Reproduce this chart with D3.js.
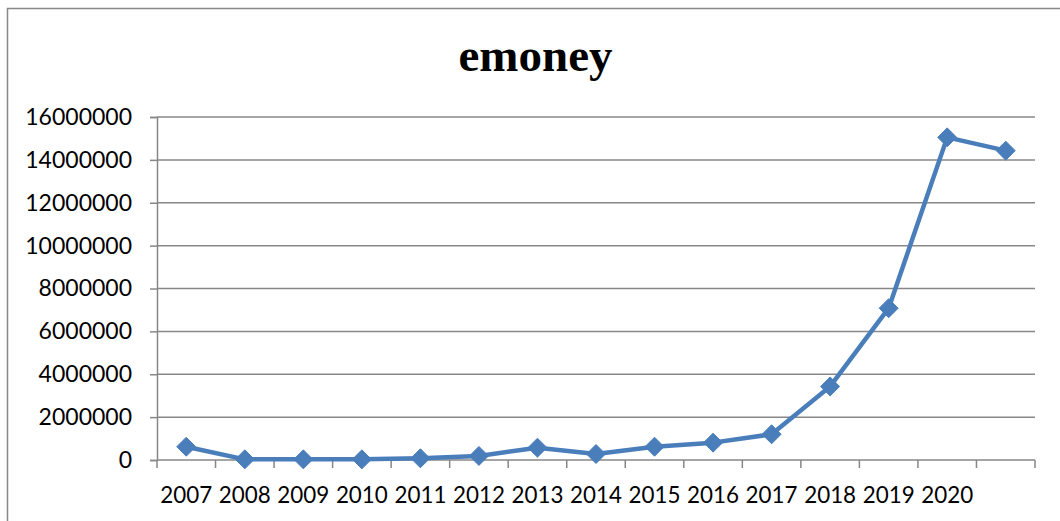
<!DOCTYPE html>
<html><head><meta charset="utf-8">
<script src="https://cdn.jsdelivr.net/npm/d3@7"></script>
<style>body{margin:0;background:#fff}svg{display:block}</style>
</head><body>
<script>
const categories = ["2007","2008","2009","2010","2011","2012","2013","2014","2015","2016","2017","2018","2019","2020",""];
const values = [620000,30000,30000,30000,80000,190000,575000,280000,620000,810000,1200000,3430000,7080000,15050000,14430000];
const yTicks = [0,2000000,4000000,6000000,8000000,10000000,12000000,14000000,16000000];
const title = "emoney";

(function(){
const W = 1060, H = 521;
const svg = d3.select("body").append("svg").attr("width", W).attr("height", H);

// outer border
svg.append("rect").attr("x",7.5).attr("y",8.5).attr("width",1100).attr("height",600)
  .attr("fill","none").attr("stroke","#888").attr("stroke-width",1.5);

const pLeft = 157, pRight = 1035, pTop = 117, pBottom = 460;
const x = d3.scaleBand().domain(d3.range(categories.length)).range([pLeft, pRight]);
const y = d3.scaleLinear().domain([0, 16000000]).range([pBottom, pTop]);

// gridlines
svg.append("g").selectAll("line").data(yTicks.slice(1)).join("line")
  .attr("x1", pLeft).attr("x2", pRight)
  .attr("y1", d => y(d)).attr("y2", d => y(d))
  .attr("stroke", "#878787").attr("stroke-width", 1.5);

// y axis
const yAxis = svg.append("g").attr("transform", `translate(${pLeft},0)`)
  .call(d3.axisLeft(y).tickValues(yTicks).tickFormat(d3.format("d")).tickSizeOuter(0).tickSize(7).tickPadding(18));
yAxis.select(".domain").attr("stroke","#878787").attr("stroke-width",1.5);
yAxis.selectAll(".tick line").attr("stroke","#878787").attr("stroke-width",1.5);
yAxis.selectAll("text").attr("font-family","Lato, sans-serif").attr("font-size",23).attr("fill","#000");

// x axis
const xAxisG = svg.append("g").attr("transform", `translate(0,${pBottom})`);
xAxisG.append("line").attr("x1",pLeft).attr("x2",pRight).attr("stroke","#878787").attr("stroke-width",1.5);
const boundaries = d3.range(categories.length + 1).map(i => pLeft + i * x.step());
xAxisG.selectAll("line.tk").data(boundaries).join("line").attr("class","tk")
  .attr("x1", d => d).attr("x2", d => d).attr("y1", 0).attr("y2", 8)
  .attr("stroke","#878787").attr("stroke-width",1.5);
xAxisG.selectAll("text").data(categories).join("text")
  .attr("x", (d,i) => x(i) + x.bandwidth()/2).attr("y", 42.7)
  .attr("text-anchor","middle").attr("font-family","Lato, sans-serif").attr("font-size",22.4).attr("fill","#000")
  .text(d => d);

// line
const cx = i => x(i) + x.bandwidth()/2;
svg.append("path").datum(values)
  .attr("d", d3.line().x((d,i) => cx(i)).y(d => y(d)))
  .attr("fill","none").attr("stroke","#4a7ebb").attr("stroke-width",4.5).attr("stroke-linejoin","round");

// markers
svg.append("g").selectAll("path").data(values).join("path")
  .attr("transform", (d,i) => `translate(${cx(i)},${y(d)})`)
  .attr("d", d3.symbol().type(d3.symbolDiamond2).size(230))
  .attr("fill","#4a7ebb").attr("stroke","#4a7ebb").attr("stroke-width",1);

// title
svg.append("text").attr("x", 535.5).attr("y", 71).attr("text-anchor","middle")
  .attr("font-family","'Liberation Serif', 'Times New Roman', serif").attr("font-weight","bold").attr("font-size",47)
  .text(title);
})();
</script>
</body></html>
